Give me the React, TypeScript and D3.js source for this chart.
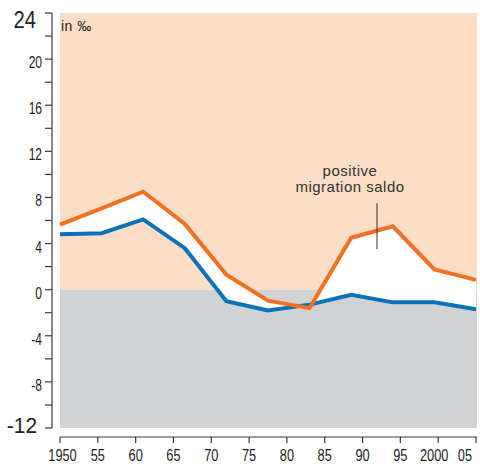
import React from "react";
import * as d3 from "d3";

const years = [1950, 1955.5, 1961, 1966.5, 1972, 1977.5, 1983, 1988.5, 1994, 1999.5, 2005];
const totalGrowth = [5.65, 7.05, 8.5, 5.7, 1.3, -0.95, -1.6, 4.5, 5.5, 1.75, 0.85];
const naturalGrowth = [4.8, 4.9, 6.1, 3.6, -1.0, -1.8, -1.3, -0.45, -1.1, -1.1, -1.7];

const xTickYears = [1950, 1955, 1960, 1965, 1970, 1975, 1980, 1985, 1990, 1995, 2000, 2005];
const xTickLabels = ["1950", "55", "60", "65", "70", "75", "80", "85", "90", "95", "2000", "05"];
const yMajorTicks = [-12, -8, -4, 0, 4, 8, 12, 16, 20, 24];
const yMinorTicks = [-10, -6, -2, 2, 6, 10, 14, 18, 22];

const W = 480;
const H = 464;
const sans = "'Liberation Sans', Arial, sans-serif";

function CText(props: { x: number; y: number; anchor: string; size: number; sx: number; children: any }) {
  return (
    <text
      transform={`translate(${props.x},${props.y}) scale(${props.sx},1)`}
      textAnchor={props.anchor}
      fontFamily={sans}
      fontSize={props.size}
      fill="#222"
    >
      {props.children}
    </text>
  );
}

export default function App() {
  const x = d3.scaleLinear().domain([1950, 2005]).range([60, 476]);
  const y = d3.scaleLinear().domain([-12, 24]).range([428, 13]);
  const axisColor = "#3a3a3a";

  const pts = years.map((yr, i) => ({ yr, t: totalGrowth[i], n: naturalGrowth[i] }));
  const lineT = d3.line<any>().x((d) => x(d.yr)).y((d) => y(d.t))(pts) as string;
  const lineN = d3.line<any>().x((d) => x(d.yr)).y((d) => y(d.n))(pts) as string;
  const belowT = d3.area<any>().x((d) => x(d.yr)).y0(y(-12)).y1((d) => y(d.t))(pts) as string;
  const aboveN = d3.area<any>().x((d) => x(d.yr)).y0(y(24)).y1((d) => y(d.n))(pts) as string;

  const bgLeft = 60;
  const bgRight = 477;
  const xOffsets: Record<number, number> = { 1950: 2.5, 2000: -4 };

  return (
    <svg width={W} height={H} style={{ position: "absolute", left: 0, top: 0 }}>
      <defs>
        <clipPath id="aboveBlue">
          <path d={aboveN} />
        </clipPath>
      </defs>
      <rect x={bgLeft} y={y(24)} width={bgRight - bgLeft} height={y(0) - y(24)} fill="#fcdec6" />
      <rect x={bgLeft} y={y(0)} width={bgRight - bgLeft} height={y(-12) - y(0)} fill="#d1d2d4" />
      <path d={belowT} fill="#ffffff" clipPath="url(#aboveBlue)" />
      <path d={lineN} fill="none" stroke="#0b72b9" strokeWidth={4} strokeLinejoin="miter" />
      <path d={lineT} fill="none" stroke="#f37021" strokeWidth={4} strokeLinejoin="miter" />

      {/* y axis */}
      <line x1={52} x2={52} y1={y(24)} y2={y(-12)} stroke={axisColor} strokeWidth={1.2} />
      {yMajorTicks.map((v) => (
        <line key={"M" + v} x1={45} x2={52} y1={y(v)} y2={y(v)} stroke={axisColor} strokeWidth={1.2} />
      ))}
      {yMinorTicks.map((v) => (
        <line key={"m" + v} x1={45} x2={52} y1={y(v)} y2={y(v)} stroke={axisColor} strokeWidth={1.2} />
      ))}
      {yMajorTicks
        .filter((v) => v !== 24 && v !== -12)
        .map((v) => (
          <CText key={"l" + v} x={42} y={y(v) + 9} anchor="end" size={16} sx={0.75}>
            {v}
          </CText>
        ))}
      <CText x={36} y={y(24) + 15} anchor="end" size={23} sx={0.88}>
        24
      </CText>
      <CText x={37} y={y(-12) + 5} anchor="end" size={22} sx={0.95}>
        -12
      </CText>

      {/* x axis */}
      <line x1={60} x2={477} y1={437} y2={437} stroke={axisColor} strokeWidth={1.2} />
      {xTickYears.map((yr) => (
        <line key={"x" + yr} x1={x(yr)} x2={x(yr)} y1={437} y2={443} stroke={axisColor} strokeWidth={1.2} />
      ))}
      {xTickYears.map((yr, i) => (
        <CText
          key={"xl" + yr}
          x={i === xTickYears.length - 1 ? 472 : x(yr) + (xOffsets[yr] || 0)}
          y={461}
          anchor={i === xTickYears.length - 1 ? "end" : "middle"}
          size={16}
          sx={0.8}
        >
          {xTickLabels[i]}
        </CText>
      ))}

      <text x={61} y={31} fontFamily={sans} fontSize={14} fill="#222" letterSpacing={0.5}>
        in ‰
      </text>

      <text x={350} y={176} textAnchor="middle" fontFamily={sans} fontSize={15} fill="#333" letterSpacing={0.5}>
        positive
      </text>
      <text x={350} y={192} textAnchor="middle" fontFamily={sans} fontSize={15} fill="#333" letterSpacing={0.5}>
        migration saldo
      </text>
      <line x1={377} x2={377} y1={203} y2={249} stroke="#333" strokeWidth={1} />
    </svg>
  );
}
